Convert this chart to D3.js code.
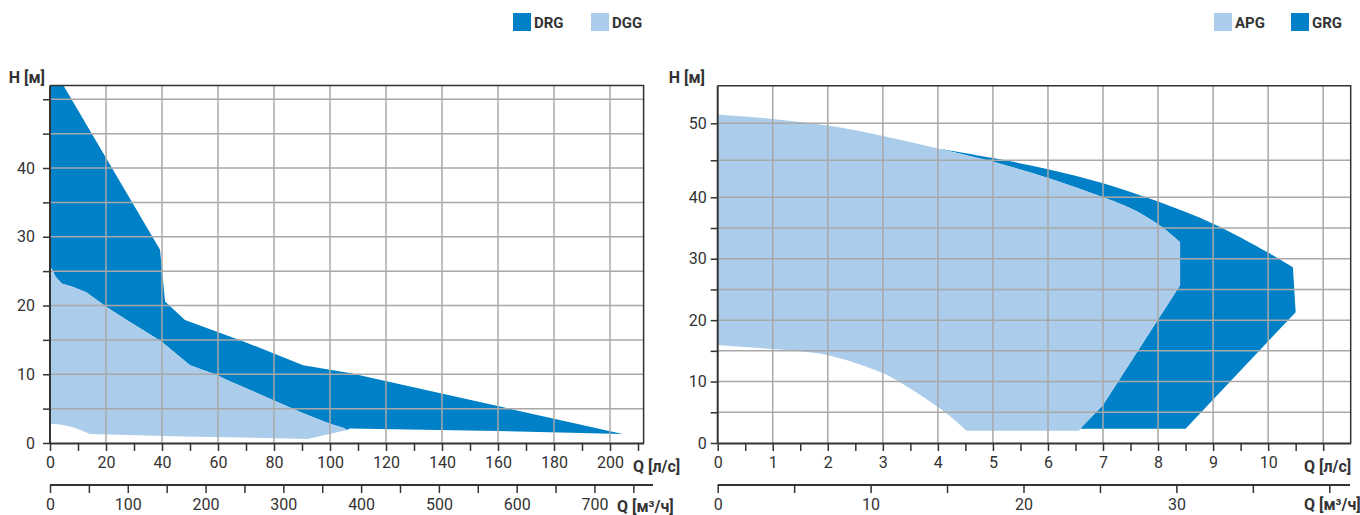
<!DOCTYPE html>
<html>
<head>
<meta charset="utf-8">
<script src="https://cdn.jsdelivr.net/npm/d3@7"></script>
<style>
  body { margin: 0; background: #fff; }
  text { font-family: Roboto, "Noto Sans", sans-serif; fill: #333; }
</style>
</head>
<body>
<div id="chart"></div>
<script>
// ---- data (Q in l/s, H in m) ----
// left chart
var drgTop = [[0, 52], [4.8, 52], [39.3, 28.1], [41.1, 20.6], [48.2, 17.9], [69.6, 14.7],
              [90.4, 11.3], [107, 10.2], [204.5, 1.3]];
var drgBottom = [[204.5, 1.3], [160, 1.75], [107, 2.1]];
var dggTop = [[0, 25.6], [0.6, 25.4], [2, 24.2], [4.2, 23.2], [8.3, 22.7], [13.1, 21.9],
              [20.2, 19.8], [27.4, 17.9], [38.1, 15.2], [40, 14.7], [50, 11.3], [59.6, 9.9],
              [63, 9.2], [80, 6.2], [90, 4.4], [100, 2.8], [105, 2.2], [106, 1.9]];
var dggBottom = [[92, 0.6], [48, 0.95], [14.3, 1.3], [12, 1.7], [9, 2.2], [5, 2.6], [0, 2.8]];

// right chart
var apgTop = [[0, 51.2], [1, 50.6], [2, 49.7], [3, 48.3], [4, 46.6], [5, 44.8], [6, 42.6],
              [7, 40.0], [7.5, 38.2], [8, 35.6], [8.4, 32.7]];
var apgRight = [[8.4, 32.7], [8.4, 25.7], [7.0, 6.2], [6.55, 2.0], [4.52, 2.0]];
var apgBottom = [[4.52, 2.0], [4.16, 4.8], [3.68, 7.8], [3.25, 10.2], [3, 11.4], [2, 14.3],
                 [1, 15.3], [0, 15.9]];
var grgTop = [[4, 46.6], [5, 45.3], [6, 43.8], [7, 41.9], [8, 39.3], [9, 35.7], [10, 31.0],
              [10.45, 28.6]];
var grgRight = [[10.45, 28.6], [10.5, 21.3], [8.5, 2.3], [6.55, 2.3]];

// ticks
var leftQTicks = d3.range(0, 211, 10);
var leftQLabels = d3.range(0, 201, 20);
var leftM3Ticks = d3.range(0, 751, 50);
var leftM3Labels = d3.range(0, 701, 100);
var leftHTicks = d3.range(0, 51, 5);
var leftHLabels = [0, 10, 20, 30, 40];

var rightQTicks = d3.range(0, 11.01, 0.5);
var rightQLabels = d3.range(0, 11, 1);
var rightM3Ticks = d3.range(0, 41, 5);
var rightM3Labels = [0, 10, 20, 30];
var rightHTicks = d3.range(0, 51, 5);
var rightHLabels = [0, 10, 20, 30, 40, 50];

var DARK = "#0080c6", LIGHT = "#abcdeb";

var svg = d3.select("#chart").append("svg")
  .attr("width", 1360).attr("height", 515);

function rev(a) { return a.slice().reverse(); }

function drawPanel(o) {
  var x = d3.scaleLinear().domain(o.qDomain).range([o.left, o.right]);
  var y = d3.scaleLinear().domain(o.hDomain).range(o.hRange);
  var xm = d3.scaleLinear().domain([0, o.qDomain[1] * 3.6]).range([o.left, o.right]);
  var top = o.hRange[o.hRange.length - 1], bottom = o.hRange[0];
  var g = svg.append("g");
  var straight = d3.line().x(function(d) { return x(d[0]); }).y(function(d) { return y(d[1]); });
  var smooth = d3.line().curve(d3.curveCatmullRom.alpha(0.5))
    .x(function(d) { return x(d[0]); }).y(function(d) { return y(d[1]); });

  // areas: each is a list of segments, smooth or straight
  o.areas.forEach(function(a) {
    var d = a.segs.map(function(s, i) {
      var p = (s.smooth ? smooth : straight)(s.pts);
      return i === 0 ? p : "L" + p.slice(1);
    }).join("") + "Z";
    g.append("path").attr("d", d).attr("fill", a.color);
  });

  // grid
  g.selectAll(".hg").data(o.hTicks.filter(function(d) { return d > 0; })).enter().append("line")
    .attr("x1", o.left).attr("x2", o.right)
    .attr("y1", function(d) { return y(d); }).attr("y2", function(d) { return y(d); })
    .attr("stroke", "#a8a8a8").attr("stroke-width", 1.5);
  g.selectAll(".vg").data(o.qGrid).enter().append("line")
    .attr("y1", top).attr("y2", bottom)
    .attr("x1", function(d) { return x(d); }).attr("x2", function(d) { return x(d); })
    .attr("stroke", "#a8a8a8").attr("stroke-width", 1.5);

  // frame top/right
  g.append("path")
    .attr("d", "M" + o.left + "," + top + "H" + o.right + "V" + bottom)
    .attr("fill", "none").attr("stroke", "#333").attr("stroke-width", 1.5);

  function styleAxis(sel) {
    sel.select(".domain").attr("stroke", "#333").attr("stroke-width", 2);
    sel.selectAll(".tick line").attr("stroke", "#333").attr("stroke-width", 1.5);
    sel.selectAll("text").style("font-size", "16px").attr("fill", "#333");
  }

  // H axis
  g.append("g").attr("transform", "translate(" + o.left + ",0)")
    .call(d3.axisLeft(y).tickValues(o.hTicks).tickSize(7).tickSizeOuter(0).tickPadding(o.hPad)
      .tickFormat(function(d) { return o.hLabels.indexOf(d) >= 0 ? d : ""; }))
    .call(styleAxis)
    .select(".domain").attr("d", "M0," + top + "V" + bottom);

  // Q l/s axis
  g.append("g").attr("transform", "translate(0," + bottom + ")")
    .call(d3.axisBottom(x).tickValues(o.qTicks).tickSize(8).tickSizeOuter(0).tickPadding(6)
      .tickFormat(function(d) { return o.qLabels.some(function(v) { return Math.abs(v - d) < 1e-9; }) ? d : ""; }))
    .call(styleAxis);

  // Q m3/h axis
  var ax2 = g.append("g").attr("transform", "translate(0," + o.m3Y + ")")
    .call(d3.axisBottom(xm).tickValues(o.m3Ticks).tickSize(8).tickSizeOuter(0).tickPadding(6)
      .tickFormat(function(d) { return o.m3Labels.indexOf(d) >= 0 ? d : ""; }))
    .call(styleAxis);
  ax2.select(".domain").attr("d", "M" + o.left + ",0H" + o.m3End);

  // titles
  g.append("text").attr("x", o.hTitleX).attr("y", 83).attr("text-anchor", "end")
    .style("font-size", "16px").style("font-weight", "bold").text("H [м]");
  g.append("text").attr("x", o.qTitleX).attr("y", 472)
    .style("font-size", "16px").style("font-weight", "bold").text("Q [л/с]");
  g.append("text").attr("x", o.m3TitleX).attr("y", o.m3TitleY)
    .style("font-size", "16px").style("font-weight", "bold").text("Q [м³/ч]");

  // legend
  o.legend.forEach(function(l) {
    g.append("rect").attr("x", l.x).attr("y", 13).attr("width", 18).attr("height", 18).attr("fill", l.color);
    g.append("text").attr("x", l.x + 21).attr("y", 28)
      .style("font-size", "15px").style("font-weight", "bold").text(l.name);
  });
}

drawPanel({
  left: 50, right: 643.6, qDomain: [0, 212],
  hDomain: [0, 52], hRange: [443, 85.5],
  qTicks: leftQTicks, qLabels: leftQLabels, qGrid: leftQLabels.filter(function(d) { return d > 0; }),
  m3Ticks: leftM3Ticks, m3Labels: leftM3Labels, m3Y: 485, m3End: 653,
  hTicks: leftHTicks, hLabels: leftHLabels, hPad: 8,
  hTitleX: 45, qTitleX: 633, m3TitleX: 617, m3TitleY: 512,
  areas: [
    { color: DARK, segs: [{ pts: drgTop }, { pts: drgBottom }, { pts: rev(dggTop) }] },
    { color: LIGHT, segs: [{ pts: dggTop }, { pts: dggBottom.slice(0, 3) }, { pts: dggBottom.slice(2), smooth: true }] }
  ],
  legend: [{ x: 513, color: DARK, name: "DRG" }, { x: 591, color: LIGHT, name: "DGG" }]
});

drawPanel({
  left: 717.7, right: 1350.7, qDomain: [0, 11.5],
  hDomain: [0, 40, 50, 55.1], hRange: [443, 197.3, 123.3, 85.7],
  qTicks: rightQTicks, qLabels: rightQLabels, qGrid: d3.range(1, 12, 1),
  m3Ticks: rightM3Ticks, m3Labels: rightM3Labels, m3Y: 485, m3End: 1350,
  hTicks: rightHTicks, hLabels: rightHLabels, hPad: 4,
  hTitleX: 705, qTitleX: 1304, m3TitleX: 1304, m3TitleY: 510,
  areas: [
    { color: DARK, segs: [{ pts: grgTop, smooth: true }, { pts: grgRight },
                          { pts: rev(apgRight.slice(0, 4)) }, { pts: rev(apgTop.slice(4)), smooth: true }] },
    { color: LIGHT, segs: [{ pts: apgTop, smooth: true }, { pts: apgRight }, { pts: apgBottom, smooth: true }] }
  ],
  legend: [{ x: 1214, color: LIGHT, name: "APG" }, { x: 1291, color: DARK, name: "GRG" }]
});
</script>
</body>
</html>
